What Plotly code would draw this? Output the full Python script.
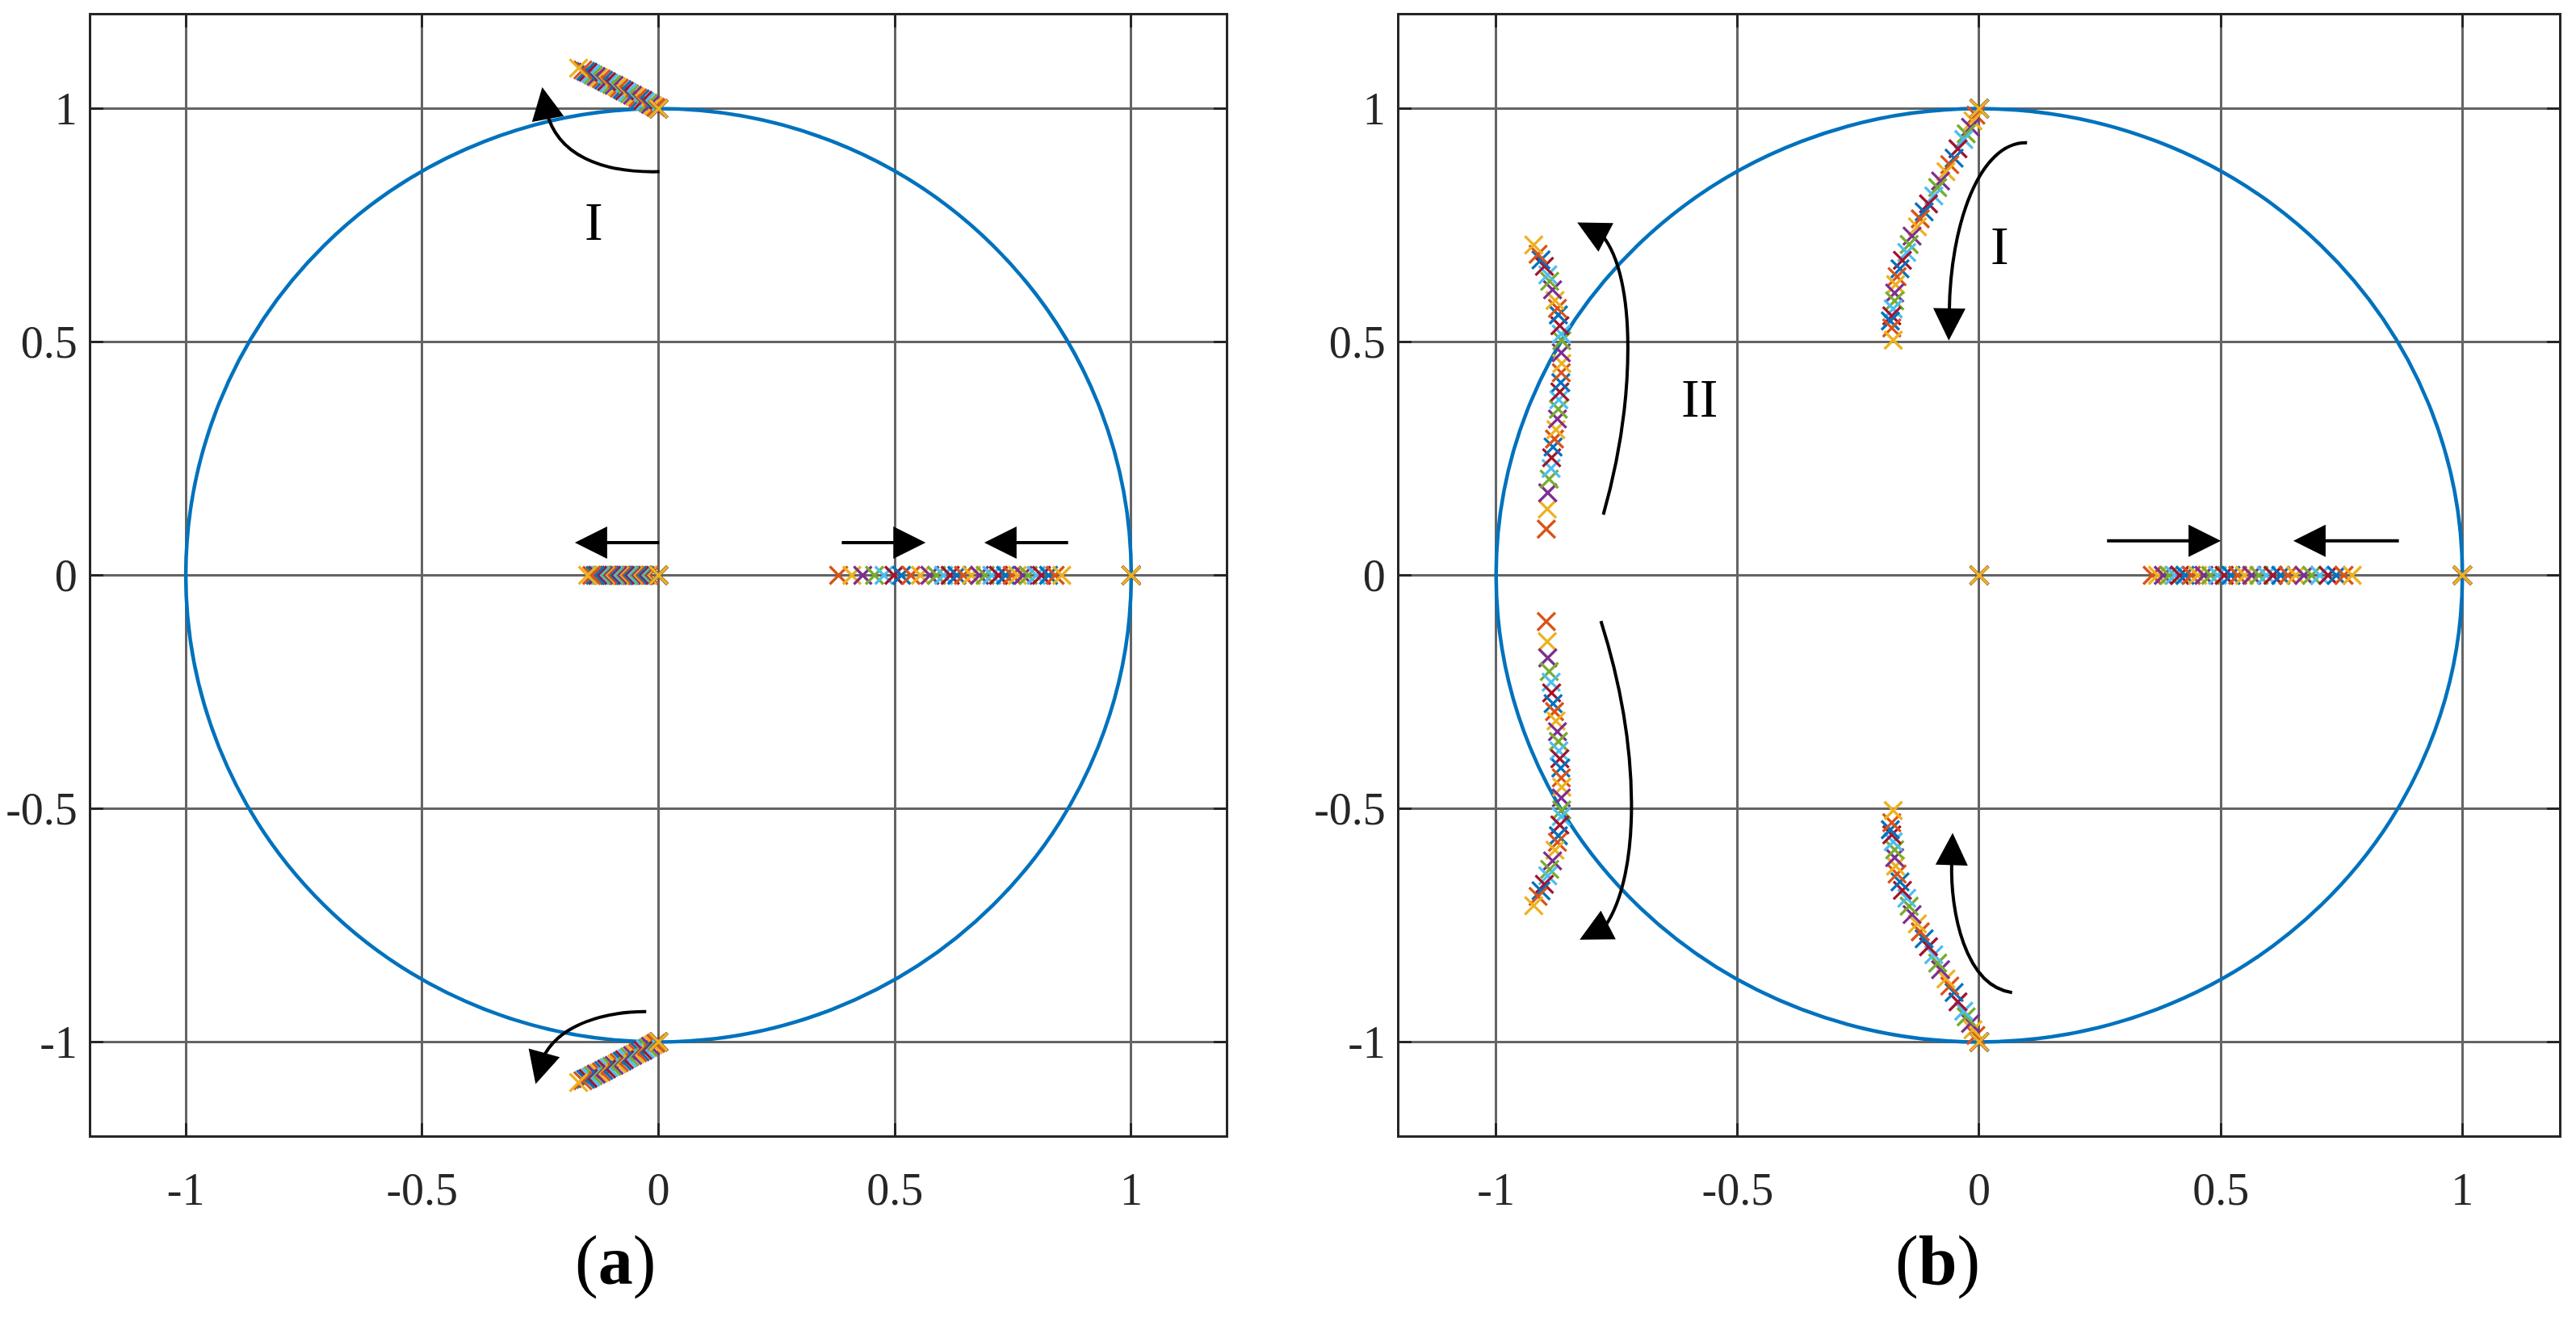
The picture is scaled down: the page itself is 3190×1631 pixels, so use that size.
import plotly.graph_objects as go

# ---------------- data ----------------
COLORS = ['#0072BD', '#D95319', '#EDB120', '#7E2F8E', '#77AC30', '#4DBEEE', '#A2142F']
TICK_VALS = [-1, -0.5, 0, 0.5, 1]
TICK_TEXT = ['-1', '-0.5', '0', '0.5', '1']

# panel (a): complex pair I (upper branch; lower branch is its conjugate)
A_PATH_I_RE = [0.000, -0.006, -0.011, -0.017, -0.022, -0.028, -0.033, -0.039, -0.044, -0.050,
               -0.055, -0.061, -0.066, -0.072, -0.077, -0.083, -0.088, -0.094, -0.099, -0.105,
               -0.110, -0.116, -0.121, -0.127, -0.132, -0.138, -0.143, -0.149, -0.154, -0.160, -0.169]
A_PATH_I_IM = [1.000, 1.003, 1.006, 1.009, 1.012, 1.015, 1.018, 1.021, 1.023, 1.026,
               1.029, 1.032, 1.035, 1.038, 1.041, 1.044, 1.047, 1.050, 1.052, 1.055,
               1.058, 1.061, 1.064, 1.067, 1.069, 1.072, 1.075, 1.078, 1.080, 1.083, 1.087]
# panel (a): real poles
A_REAL_LEFT = [0.000, -0.020, -0.024, -0.029, -0.033, -0.037, -0.041, -0.045, -0.050, -0.054,
               -0.058, -0.062, -0.066, -0.071, -0.075, -0.079, -0.083, -0.087, -0.092, -0.096,
               -0.100, -0.104, -0.108, -0.113, -0.117, -0.121, -0.125, -0.129, -0.134, -0.141, -0.150]
A_REAL_RIGHT = [None, 0.381, 0.409, 0.432, 0.457, 0.477, 0.498, 0.514, 0.534, 0.554,
                0.574, 0.588, 0.603, 0.617, 0.631, 0.645, 0.662, 0.679, 0.691, 0.705,
                0.719, 0.734, 0.748, 0.759, 0.771, 0.782, 0.799, 0.810, 0.825, 0.839, 0.853]
A_FIXED_RE = [0, 0, 0, 1]
A_FIXED_IM = [1, -1, 0, 0]

# panel (b): complex pair I
B_PATH_I_RE = [0.001, -0.007, -0.013, -0.018, -0.027, -0.032, -0.044, -0.052, -0.061, -0.069,
               -0.080, -0.086, -0.094, -0.105, -0.114, -0.122, -0.128, -0.139, -0.145, -0.150,
               -0.159, -0.164, -0.170, -0.173, -0.175, -0.175, -0.178, -0.181, -0.184, -0.181, -0.178]
B_PATH_I_IM = [1.000, 0.986, 0.974, 0.960, 0.946, 0.934, 0.914, 0.894, 0.880, 0.865,
               0.845, 0.831, 0.813, 0.796, 0.779, 0.764, 0.747, 0.727, 0.709, 0.692,
               0.675, 0.657, 0.640, 0.623, 0.605, 0.588, 0.571, 0.556, 0.545, 0.530, 0.504]
# panel (b): complex pair II
B_PATH_II_RE = [None, -0.896, -0.894, -0.893, -0.890, -0.886, -0.885, -0.882, -0.879, -0.876,
                -0.873, -0.871, -0.870, -0.868, -0.866, -0.865, -0.864, -0.865, -0.864, -0.865,
                -0.868, -0.871, -0.873, -0.878, -0.883, -0.889, -0.893, -0.900, -0.907, -0.913, -0.922]
B_PATH_II_IM = [None, 0.099, 0.142, 0.177, 0.206, 0.229, 0.252, 0.275, 0.292, 0.312,
                0.335, 0.356, 0.376, 0.393, 0.413, 0.434, 0.454, 0.477, 0.503, 0.517,
                0.535, 0.558, 0.572, 0.589, 0.612, 0.630, 0.644, 0.662, 0.676, 0.688, 0.708]
B_REAL_RIGHT = [None, 0.358, 0.369, 0.381, 0.393, 0.404, 0.415, 0.426, 0.439, 0.452,
                0.465, 0.479, 0.493, 0.507, 0.521, 0.535, 0.549, 0.564, 0.579, 0.594,
                0.608, 0.624, 0.639, 0.655, 0.672, 0.688, 0.705, 0.722, 0.739, 0.755, 0.772]
B_FIXED_RE = [0, 0, 0, 1]
B_FIXED_IM = [1, -1, 0, 0]

N_SERIES = len(A_PATH_I_RE)

# ---------------- annotation geometry (arrows / labels) ----------------
# curved arrows: (panel, P0, P1, P2, curve end, tip)
CURVED_ARROWS = [
    ('a', (0.002, 0.865), (-0.12, 0.862), (-0.215, 0.90), (-0.237, 0.995), (-0.246, 1.046)),
    ('a', (-0.026, -0.935), (-0.11, -0.935), (-0.21, -0.96), (-0.245, -1.035), (-0.260, -1.090)),
    ('b', (0.099, 0.927), (0.0, 0.93), (-0.06, 0.75), (-0.062, 0.565), (-0.063, 0.503)),
    ('b', (0.068, -0.894), (-0.03, -0.88), (-0.06, -0.72), (-0.057, -0.615), (-0.055, -0.552)),
    ('b', (-0.778, 0.130), (-0.71, 0.38), (-0.71, 0.64), (-0.780, 0.728), (-0.832, 0.756)),
    ('b', (-0.783, -0.098), (-0.70, -0.37), (-0.70, -0.64), (-0.775, -0.753), (-0.827, -0.781)),
]
STRAIGHT_ARROWS = [
    ('a', (0.004, 0.070), (-0.177, 0.070)),
    ('a', (0.385, 0.070), (0.565, 0.070)),
    ('a', (0.869, 0.070), (0.689, 0.070)),
    ('b', (0.262, 0.074), (0.500, 0.074)),
    ('b', (0.871, 0.074), (0.650, 0.074)),
]
TEXT_LABELS = [
    ('a', -0.136, 0.758, 'I'),
    ('b', 0.043, 0.706, 'I'),
    ('b', -0.579, 0.380, 'II'),
]

AX = {'a': ('x', 'y'), 'b': ('x2', 'y2')}

fig = go.Figure()

# unit circles
for p in ('a', 'b'):
    xr, yr = AX[p]
    fig.add_shape(type='circle', xref=xr, yref=yr, x0=-1, y0=-1, x1=1, y1=1,
                  line=dict(color='#0072BD', width=4.5), layer='between')

# pole markers, one trace per parameter value per panel
for k in range(N_SERIES):
    col = COLORS[k % len(COLORS)]
    mk = dict(symbol='x-thin', size=22, color=col, line=dict(color=col, width=3.3))
    xa = [A_PATH_I_RE[k], A_PATH_I_RE[k], A_REAL_LEFT[k], A_REAL_RIGHT[k]] + A_FIXED_RE
    ya = [A_PATH_I_IM[k], -A_PATH_I_IM[k], 0, 0 if A_REAL_RIGHT[k] is not None else None] + A_FIXED_IM
    fig.add_trace(go.Scatter(x=xa, y=ya, mode='markers', marker=mk, xaxis='x', yaxis='y',
                             hoverinfo='skip'))
    ii_im = B_PATH_II_IM[k]
    xb = [B_PATH_I_RE[k], B_PATH_I_RE[k], B_PATH_II_RE[k], B_PATH_II_RE[k], B_REAL_RIGHT[k]] + B_FIXED_RE
    yb = [B_PATH_I_IM[k], -B_PATH_I_IM[k], ii_im, (-ii_im if ii_im is not None else None),
          0 if B_REAL_RIGHT[k] is not None else None] + B_FIXED_IM
    fig.add_trace(go.Scatter(x=xb, y=yb, mode='markers', marker=mk, xaxis='x2', yaxis='y2',
                             hoverinfo='skip'))

HEAD = dict(showarrow=True, arrowhead=2, arrowsize=2.0, arrowwidth=4, arrowcolor='black',
            standoff=0, startstandoff=0, text='')

for p, p0, p1, p2, e, t in CURVED_ARROWS:
    xr, yr = AX[p]
    path = f'M {p0[0]},{p0[1]} C {p1[0]},{p1[1]} {p2[0]},{p2[1]} {e[0]},{e[1]}'
    fig.add_shape(type='path', path=path, xref=xr, yref=yr,
                  line=dict(color='black', width=4), layer='above')
    fig.add_annotation(x=t[0], y=t[1], ax=e[0], ay=e[1], xref=xr, yref=yr,
                       axref=xr, ayref=yr, **HEAD)

for p, tail, tip in STRAIGHT_ARROWS:
    xr, yr = AX[p]
    fig.add_annotation(x=tip[0], y=tip[1], ax=tail[0], ay=tail[1], xref=xr, yref=yr,
                       axref=xr, ayref=yr, **HEAD)

for p, x, y, s in TEXT_LABELS:
    xr, yr = AX[p]
    fig.add_annotation(x=x, y=y, xref=xr, yref=yr, text=s, showarrow=False,
                       xanchor='center', yanchor='middle',
                       font=dict(family='Liberation Serif', size=68, color='black'))

for lbl, px in (('a', 0.23756), ('b', 0.75362)):
    fig.add_annotation(x=px, y=0.0384, xref='paper', yref='paper', showarrow=False,
                       xanchor='center', yanchor='middle',
                       text=f'(<b>{lbl}</b>)',
                       font=dict(family='Liberation Serif', size=86, color='black'))

axis_common = dict(range=[-1.2, 1.2], tickvals=TICK_VALS, ticktext=TICK_TEXT,
                   showgrid=True, gridcolor='#646464', gridwidth=3, zeroline=False,
                   showline=True, linecolor='#262626', linewidth=3, mirror='allticks',
                   ticks='inside', ticklen=15, tickwidth=3, tickcolor='#262626',
                   automargin=False,
                   tickfont=dict(family='Liberation Serif', size=56, color='#262626'))

# the page body adds an 8 px margin, so the figure is 16 px smaller than the window
fig.update_layout(
    width=3174, height=1615,
    margin=dict(l=0, r=0, t=0, b=0, pad=0, autoexpand=False),
    paper_bgcolor='white', plot_bgcolor='white',
    showlegend=False,
    xaxis=dict(domain=[0.033081, 0.475740], anchor='y', ticklabelstandoff=16, **axis_common),
    yaxis=dict(domain=[0.134365, 0.993189], anchor='x', ticklabelstandoff=3, **axis_common),
    xaxis2=dict(domain=[0.543478, 0.995904], anchor='y2', ticklabelstandoff=16, **axis_common),
    yaxis2=dict(domain=[0.134365, 0.993189], anchor='x2', ticklabelstandoff=3, **axis_common),
)

fig.write_html('out.html')
